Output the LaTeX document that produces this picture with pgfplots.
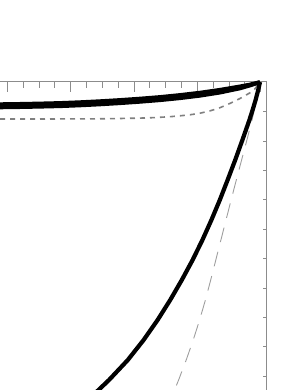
\documentclass[border=0pt]{standalone}
\usepackage{pgfplots}
\pgfplotsset{compat=1.18}
\definecolor{axgray}{HTML}{8C8C8C}
\begin{document}
\begin{tikzpicture}[x=1pt,y=1pt]
\useasboundingbox (0,0) rectangle (290,390);
% main axis: data and top ticks
\begin{axis}[
  at={(-40pt,-40pt)}, anchor=south west,
  x=1pt, y=1pt, y dir=reverse,
  xmin=-40, xmax=266.7, ymin=81.7, ymax=430,
  clip=false,
  axis line style={draw=axgray, line width=1.1pt},
  tick align=inside,
  xtick pos=right,
  xtick={7.3,70.65,134,197.35,260.7},
  minor x tick num=3,
  ytick=\empty,
  xticklabels={},
  major tick length=10pt, minor tick length=6pt,
  every tick/.style={draw=axgray, line width=0.9pt},
]
% steep dashed gray
\addplot[color=black!38, line width=0.9pt, dash pattern=on 15pt off 10pt, line join=round] table {
x y
260 82
256.6 100
252.0 120
246.9 140
241.6 160
236.3 180
231.1 200
226.0 220
220.9 240
215.8 260
210.7 280
205.4 300
199.6 320
193.2 340
186.2 360
178.6 380
170.5 400
};
% upper dashed gray
\addplot[color=black!50, line width=1.6pt, dash pattern=on 5pt off 5pt, line join=round] table {
x y
-20 119
0 119
40 119
80 118.9
100 118.8
120 118.5
140 118.1
150 117.8
160 117.3
170 116.7
180 115.8
190 114.8
200 113.2
210 110.9
220 107.7
230 103.4
240 98.5
250 92.8
255 88.8
260 82
};
% thick band (two converging lines)
\addplot[color=black, line width=4pt, line join=round] table {
x y
-20 104.5
0 104.3
20 104.0
40 103.6
60 103.1
80 102.3
100 101.3
120 100.1
140 98.7
160 97.1
180 95.1
200 92.75
220 89.9
240 86.5
250 84.6
260 82.2
};
\addplot[color=black, line width=4pt, line join=round] table {
x y
-20 107.5
0 107.3
20 107.0
40 106.6
60 106.1
80 105.3
100 104.3
120 103.1
140 101.7
160 100.1
180 98.1
200 95.65
220 92.5
240 88.3
250 85.4
260 82.2
};
% steep black
\addplot[color=black, line width=4.2pt, line join=round] table {
x y
260 82
258.2 90
255.6 100
252.6 110
249.4 120
242.4 140
235.2 160
227.6 180
219.8 200
211.4 220
202.4 240
192.6 260
181.8 280
170.2 300
157.6 320
143.6 340
127.8 360
109.0 380
88.0 400
77.0 410
};
\end{axis}
% overlay axis: right ticks
\begin{axis}[
  at={(-40pt,-40pt)}, anchor=south west,
  x=1pt, y=1pt, y dir=reverse,
  xmin=-40, xmax=266.7, ymin=81.7, ymax=430,
  axis line style={draw=none},
  tick align=inside,
  ytick pos=right,
  xtick=\empty,
  ytick={111.7,141,170.5,199.8,229.2,258.5,288,317.3,346.7,376},
  yticklabels={},
  major tick length=3.5pt,
  every tick/.style={draw=axgray, line width=0.9pt},
]
\end{axis}
\end{tikzpicture}
\end{document}
